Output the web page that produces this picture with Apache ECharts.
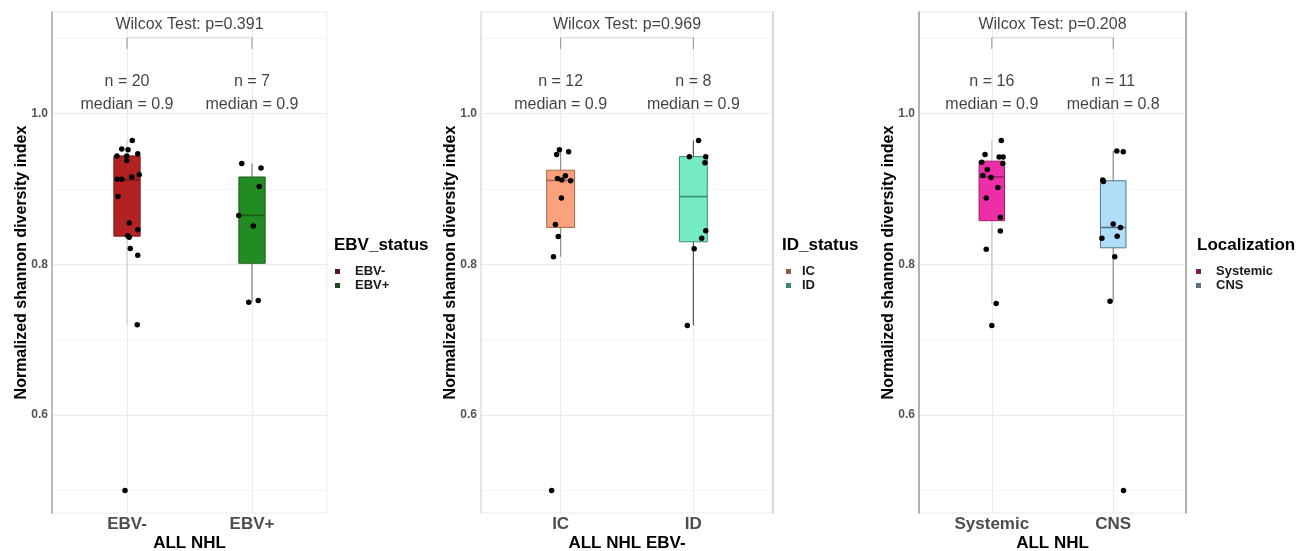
<!DOCTYPE html>
<html>
<head>
<meta charset="utf-8">
<script src="https://cdn.jsdelivr.net/npm/echarts@6/dist/echarts.min.js"></script>
<style>
html, body { margin: 0; padding: 0; background: #fff; }
#main { width: 1316px; height: 551px; }
</style>
</head>
<body>
<div id="main"></div>
<script>
// 数据
const ebvCats = ['EBV-', 'EBV+'];
const idCats = ['IC', 'ID'];
const locCats = ['Systemic', 'CNS'];

// 箱线统计: [下须, Q1, 中位数, Q3, 上须]
const ebvBoxes = [[0.720, 0.8375, 0.912, 0.944, 0.9645], [0.7496, 0.8015, 0.865, 0.916, 0.934]];
const idBoxes = [[0.810, 0.849, 0.9114, 0.925, 0.952], [0.719, 0.830, 0.890, 0.943, 0.9645]];
const locBoxes = [[0.748, 0.858, 0.916, 0.937, 0.9645], [0.751, 0.822, 0.849, 0.911, 0.9504]];

// 散点值与抖动偏移
const ebvNegValues = [0.9645, 0.953, 0.952, 0.944, 0.944, 0.947, 0.938, 0.919, 0.913, 0.913, 0.916, 0.890, 0.855, 0.846, 0.838, 0.836, 0.821, 0.812, 0.720, 0.500];
const ebvNegJitter = [0.042, -0.042, 0.008, -0.080, -0.002, 0.086, -0.002, 0.098, -0.078, -0.042, 0.038, -0.072, 0.018, 0.086, 0.006, 0.018, 0.026, 0.086, 0.082, -0.016];
const ebvPosValues = [0.934, 0.928, 0.9035, 0.865, 0.851, 0.7496, 0.752];
const ebvPosJitter = [-0.082, 0.072, 0.058, -0.106, 0.010, -0.026, 0.050];
const icValues = [0.952, 0.946, 0.9496, 0.914, 0.912, 0.9175, 0.911, 0.888, 0.853, 0.837, 0.810, 0.500];
const icJitter = [-0.009, -0.030, 0.060, -0.024, 0.009, 0.036, 0.075, 0.006, -0.039, -0.018, -0.054, -0.068];
const idValues = [0.9645, 0.943, 0.943, 0.935, 0.8447, 0.8346, 0.8206, 0.719];
const idJitter = [0.039, -0.030, 0.093, 0.087, 0.093, 0.063, 0.006, -0.045];
const sysValues = [0.9645, 0.946, 0.9425, 0.9425, 0.9355, 0.934, 0.926, 0.918, 0.9154, 0.902, 0.888, 0.8627, 0.8443, 0.820, 0.748, 0.719];
const sysJitter = [0.078, -0.056, 0.060, 0.093, -0.083, 0.090, -0.037, -0.073, -0.007, 0.050, -0.046, 0.070, 0.070, -0.046, 0.036, 0.000];
const cnsValues = [0.9504, 0.9496, 0.912, 0.910, 0.8535, 0.849, 0.8373, 0.8346, 0.810, 0.751, 0.500];
const cnsJitter = [0.030, 0.083, -0.086, -0.080, 0.000, 0.060, 0.033, -0.093, 0.013, -0.026, 0.085];

// 注释文字
const ebvN = ['n = 20', 'n = 7'];
const idN = ['n = 12', 'n = 8'];
const locN = ['n = 16', 'n = 11'];
const ebvMedian = ['median = 0.9', 'median = 0.9'];
const idMedian = ['median = 0.9', 'median = 0.9'];
const locMedian = ['median = 0.9', 'median = 0.8'];
const pLabels = ['Wilcox Test: p=0.391', 'Wilcox Test: p=0.969', 'Wilcox Test: p=0.208'];
const legendTitles = ['EBV_status', 'ID_status', 'Localization'];
const xTitles = ['ALL NHL', 'ALL NHL EBV-', 'ALL NHL'];

// 刻度
const yMajor = [0.6, 0.8, 1.0];
const yMinor = [0.5, 0.7, 0.9, 1.1];
const catPos = [1, 2];
const nLabelY = 1.043;
const medLabelY = 1.012;
const pLabelY = 1.118;
const bracketTop = 1.101;
const bracketLow = 1.086;

const FONT = '"Liberation Sans", Arial, sans-serif';
const BOX_WIDTH = 0.21;

const panels = [
    {
        cats: ebvCats, boxes: ebvBoxes, nText: ebvN, medText: ebvMedian,
        points: [[ebvNegJitter, ebvNegValues], [ebvPosJitter, ebvPosValues]],
        fills: ['#B22222', '#228B22'], borders: ['#7e1717', '#1b5e1b'], whiskers: ['#cfcfcf', '#7f7f7f'],
        keys: ['#5c1818', '#1d4a1d'],
        grid: { left: 52, top: 12, width: 275, height: 501 },
        leftLine: '#a8a8a8', rightLine: null,
        legend: { left: 335, pad: 10 }, legendTitleLeft: 334
    },
    {
        cats: idCats, boxes: idBoxes, nText: idN, medText: idMedian,
        points: [[icJitter, icValues], [idJitter, idValues]],
        fills: ['#FBA27C', '#74EBC5'], borders: ['#a8694c', '#3d8a73'], whiskers: ['#8c8c8c', '#555555'],
        keys: ['#8f5c48', '#3f8470'],
        grid: { left: 481, top: 12, width: 292, height: 501 },
        leftLine: '#e0e0e0', rightLine: '#cfcfcf',
        legend: { left: 786, pad: 6 }, legendTitleLeft: 782
    },
    {
        cats: locCats, boxes: locBoxes, nText: locN, medText: locMedian,
        points: [[sysJitter, sysValues], [cnsJitter, cnsValues]],
        fills: ['#EC2FA6', '#B0DEF8'], borders: ['#9a1d69', '#55758b'], whiskers: ['#c8c8c8', '#8c8c8c'],
        keys: ['#7e1a5a', '#5b6f7c'],
        grid: { left: 919, top: 12, width: 267, height: 501 },
        leftLine: '#9c9c9c', rightLine: '#9c9c9c',
        legend: { left: 1196, pad: 10 }, legendTitleLeft: 1197
    }
];

// 箱体绘制
function boxRenderer(fill, border, whisker) {
    return function (params, api) {
        const x = api.value(0);
        const lo = api.coord([x, api.value(1)]);
        const q1 = api.coord([x, api.value(2)]);
        const md = api.coord([x, api.value(3)]);
        const q3 = api.coord([x, api.value(4)]);
        const hi = api.coord([x, api.value(5)]);
        const half = api.size([BOX_WIDTH, 0])[0] / 2;
        return {
            type: 'group',
            children: [
                { type: 'line', shape: { x1: lo[0], y1: lo[1], x2: hi[0], y2: hi[1] }, style: { stroke: whisker, lineWidth: 1.2 } },
                { type: 'rect', shape: { x: md[0] - half, y: q3[1], width: half * 2, height: q1[1] - q3[1] }, style: { fill: fill, stroke: border, lineWidth: 1 } },
                { type: 'line', shape: { x1: md[0] - half, y1: md[1], x2: md[0] + half, y2: md[1] }, style: { stroke: border, lineWidth: 1.6 } }
            ]
        };
    };
}

function nearAny(v, list) {
    return list.some(m => Math.abs(m - v) < 1e-6);
}

const option = {
    animation: false,
    textStyle: { fontFamily: FONT },
    title: [],
    legend: [],
    grid: [],
    xAxis: [],
    yAxis: [],
    series: []
};

panels.forEach((p, k) => {
    option.grid.push(Object.assign({
        show: true, borderColor: '#ebebeb', borderWidth: 1, backgroundColor: 'transparent',
        containLabel: false, outerBoundsMode: 'none'
    }, p.grid));

    option.xAxis.push({
        type: 'value', gridIndex: k, min: 0.4, max: 2.6, interval: 0.2,
        name: xTitles[k], nameLocation: 'middle', nameGap: 22, nameMoveOverlap: false,
        nameTextStyle: { fontFamily: FONT, fontSize: 17, fontWeight: 'bold', color: '#000' },
        axisLine: { show: false }, axisTick: { show: false }, splitLine: { show: false },
        axisLabel: {
            margin: 3, fontFamily: FONT, fontSize: 17, fontWeight: 'bold', color: '#4d4d4d',
            formatter: v => Math.abs(v - catPos[0]) < 1e-6 ? p.cats[0] : (Math.abs(v - catPos[1]) < 1e-6 ? p.cats[1] : '')
        }
    });

    option.yAxis.push({
        type: 'value', gridIndex: k, min: 0.47, max: 1.135, interval: 0.005,
        name: 'Normalized shannon diversity index', nameLocation: 'middle', nameGap: 22, nameMoveOverlap: false,
        nameTextStyle: { fontFamily: FONT, fontSize: 16, fontWeight: 'bold', color: '#000' },
        axisLine: { show: true, lineStyle: { color: p.leftLine, width: 1.5 } },
        axisTick: { show: false }, splitLine: { show: false },
        axisLabel: {
            margin: 4, fontFamily: FONT, fontSize: 12, fontWeight: 'bold', color: '#555',
            formatter: v => nearAny(v, yMajor) ? v.toFixed(1) : ''
        }
    });
    const leftYIndex = option.yAxis.length - 1;
    if (p.rightLine) {
        option.yAxis.push({
            type: 'value', gridIndex: k, position: 'right', min: 0.47, max: 1.135, interval: 0.005,
            axisLine: { show: true, lineStyle: { color: p.rightLine, width: 1.5 } },
            axisTick: { show: false }, axisLabel: { show: false }, splitLine: { show: false }
        });
    }

    // 网格线 + 括号横线
    option.series.push({
        type: 'line', xAxisIndex: k, yAxisIndex: leftYIndex, silent: true, z: 1,
        symbol: 'none',
        data: [[catPos[0], bracketTop], [catPos[1], bracketTop]],
        lineStyle: { color: '#dcdcdc', width: 1 },
        markLine: {
            silent: true, symbol: 'none', z: 0, animation: false,
            label: { show: false },
            data: [].concat(
                yMinor.map(v => ({ yAxis: v, lineStyle: { color: '#f4f4f4', width: 1, type: 'solid' } })),
                yMajor.map(v => ({ yAxis: v, lineStyle: { color: '#ebebeb', width: 1, type: 'solid' } })),
                catPos.map(v => ({ xAxis: v, lineStyle: { color: '#ebebeb', width: 1, type: 'solid' } }))
            )
        }
    });
    // 括号竖线
    option.series.push({
        type: 'line', xAxisIndex: k, yAxisIndex: leftYIndex, silent: true, z: 1,
        symbol: 'none', connectNulls: false,
        data: [[catPos[0], bracketLow], [catPos[0], bracketTop], '-', [catPos[1], bracketTop], [catPos[1], bracketLow]],
        lineStyle: { color: '#8f8f8f', width: 1 }
    });

    // 箱体
    p.cats.forEach((c, i) => {
        option.series.push({
            name: c, type: 'custom', xAxisIndex: k, yAxisIndex: leftYIndex, z: 2, silent: true,
            itemStyle: { color: p.fills[i] },
            renderItem: boxRenderer(p.fills[i], p.borders[i], p.whiskers[i]),
            data: [[catPos[i]].concat(p.boxes[i])]
        });
    });

    // 抖动散点
    p.cats.forEach((c, i) => {
        const jit = p.points[i][0];
        const vals = p.points[i][1];
        option.series.push({
            name: c, type: 'scatter', xAxisIndex: k, yAxisIndex: leftYIndex, z: 3, silent: true,
            symbolSize: 5.5, itemStyle: { color: '#000', opacity: 1 },
            data: vals.map((v, j) => [catPos[i] + jit[j], v])
        });
    });

    // 文字注释
    const labelData = [];
    p.cats.forEach((c, i) => {
        labelData.push({ name: p.nText[i], value: [catPos[i], nLabelY] });
        labelData.push({ name: p.medText[i], value: [catPos[i], medLabelY] });
    });
    labelData.push({ name: pLabels[k], value: [(catPos[0] + catPos[1]) / 2, pLabelY] });
    option.series.push({
        type: 'scatter', xAxisIndex: k, yAxisIndex: leftYIndex, z: 4, silent: true,
        symbolSize: 0,
        label: { show: true, position: 'inside', formatter: '{b}', fontFamily: FONT, fontSize: 16, color: '#111' },
        data: labelData
    });

    // 图例
    option.title.push({
        text: legendTitles[k], left: p.legendTitleLeft, top: 237, padding: 0,
        textStyle: { fontFamily: FONT, fontSize: 17, fontWeight: 'bold', color: '#000' }
    });
    option.legend.push({
        orient: 'vertical', left: p.legend.left, top: 265, padding: 0, itemGap: 1,
        itemWidth: 5, itemHeight: 5, selectedMode: false, icon: 'rect',
        textStyle: { fontFamily: FONT, fontSize: 13, fontWeight: 'bold', color: '#1a1a1a', lineHeight: 10, padding: [0, 0, 0, p.legend.pad] },
        data: p.cats.map((c, i) => ({ name: c, itemStyle: { color: p.keys[i] } }))
    });
});

const chart = echarts.init(document.getElementById('main'));
chart.setOption(option);
</script>
</body>
</html>
